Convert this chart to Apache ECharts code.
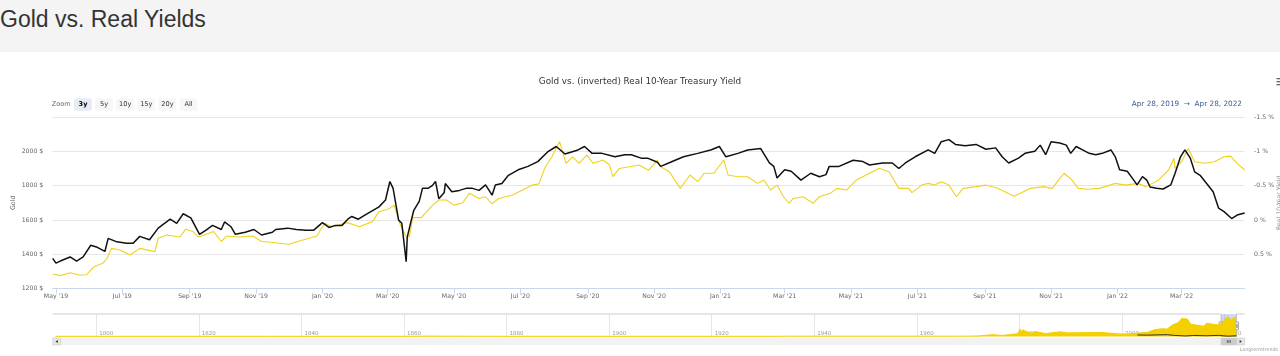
<!DOCTYPE html>
<html><head><meta charset="utf-8">
<script src="https://cdn.jsdelivr.net/npm/echarts@6/dist/echarts.min.js"></script>
<style>
html,body{margin:0;padding:0;background:#fff;width:1280px;height:356px;overflow:hidden;}
#hdr{position:absolute;left:0;top:0;width:1280px;height:52px;background:#f4f4f4;}
#hdr h1{position:absolute;left:0;top:7.5px;margin:0;font:normal 23px/23px "Liberation Sans",Arial,sans-serif;color:#333;white-space:nowrap;}
#chart{position:absolute;left:0;top:52px;width:1280px;height:304px;}
</style></head><body>
<div id="hdr"><h1>Gold vs. Real Yields</h1></div>
<div id="chart"></div>
<script>
// ---- Gold price (USD/oz), left axis ----
const goldDates = ['2019-04-28','2019-05-05','2019-05-14','2019-05-23','2019-05-29','2019-06-05','2019-06-13','2019-06-17','2019-06-21','2019-06-29','2019-07-08','2019-07-17','2019-07-31','2019-08-03','2019-08-11','2019-08-23','2019-08-28','2019-09-04','2019-09-09','2019-09-23','2019-09-30','2019-10-05','2019-10-17','2019-10-29','2019-11-06','2019-11-17','2019-12-01','2019-12-14','2019-12-27','2020-01-03','2020-01-10','2020-01-24','2020-02-04','2020-02-16','2020-02-22','2020-03-03','2020-03-07','2020-03-12','2020-03-18','2020-03-21','2020-03-24','2020-04-01','2020-04-10','2020-04-17','2020-04-24','2020-05-01','2020-05-09','2020-05-15','2020-05-24','2020-05-30','2020-06-05','2020-06-11','2020-06-24','2020-07-03','2020-07-12','2020-07-18','2020-07-24','2020-07-30','2020-08-06','2020-08-12','2020-08-18','2020-08-24','2020-08-31','2020-09-06','2020-09-15','2020-09-21','2020-09-24','2020-09-30','2020-10-09','2020-10-18','2020-10-27','2020-11-04','2020-11-07','2020-11-15','2020-11-25','2020-12-04','2020-12-11','2020-12-17','2020-12-26','2021-01-04','2021-01-08','2021-01-17','2021-01-26','2021-02-04','2021-02-10','2021-02-16','2021-02-22','2021-02-28','2021-03-05','2021-03-09','2021-03-18','2021-03-27','2021-04-02','2021-04-12','2021-04-18','2021-04-27','2021-05-06','2021-05-18','2021-05-27','2021-06-05','2021-06-14','2021-06-23','2021-06-26','2021-07-05','2021-07-11','2021-07-17','2021-07-23','2021-07-30','2021-08-06','2021-08-12','2021-08-24','2021-09-02','2021-09-13','2021-09-19','2021-09-28','2021-10-07','2021-10-13','2021-10-25','2021-11-02','2021-11-08','2021-11-13','2021-11-20','2021-11-26','2021-12-05','2021-12-15','2021-12-21','2021-12-30','2022-01-08','2022-01-20','2022-01-27','2022-02-02','2022-02-08','2022-02-17','2022-02-22','2022-02-23','2022-03-01','2022-03-07','2022-03-13','2022-03-22','2022-03-31','2022-04-09','2022-04-15','2022-04-21','2022-04-28'];
const goldValues = [1285,1275,1292,1277,1280,1327,1347,1376,1434,1424,1395,1434,1415,1493,1512,1500,1545,1532,1500,1532,1474,1506,1500,1506,1474,1468,1458,1483,1506,1580,1560,1584,1560,1590,1648,1667,1686,1580,1502,1502,1613,1613,1677,1716,1716,1686,1700,1755,1725,1735,1693,1725,1745,1774,1803,1810,1910,1968,2056,1930,1968,1930,1978,1930,1949,1920,1852,1900,1910,1920,1890,1949,1910,1881,1784,1862,1823,1872,1872,1949,1862,1852,1852,1813,1833,1774,1803,1735,1697,1725,1735,1697,1735,1755,1784,1774,1833,1872,1901,1881,1784,1784,1759,1803,1813,1803,1823,1803,1735,1784,1794,1803,1784,1765,1738,1765,1784,1794,1784,1833,1872,1833,1784,1779,1784,1794,1813,1803,1813,1794,1813,1833,1891,1959,1900,1940,2017,1939,1930,1939,1968,1972,1930,1891];

// ---- Real 10-year Treasury yield (%), right axis (inverted) ----
const yieldDates = ['2019-04-28','2019-05-01','2019-05-05','2019-05-14','2019-05-20','2019-05-26','2019-06-02','2019-06-08','2019-06-15','2019-06-18','2019-06-26','2019-07-05','2019-07-11','2019-07-17','2019-07-26','2019-08-03','2019-08-14','2019-08-20','2019-08-26','2019-09-02','2019-09-10','2019-09-16','2019-09-22','2019-09-30','2019-10-03','2019-10-09','2019-10-13','2019-10-22','2019-10-30','2019-11-06','2019-11-16','2019-11-19','2019-11-30','2019-12-08','2019-12-17','2019-12-24','2020-01-01','2020-01-07','2020-01-13','2020-01-19','2020-01-25','2020-01-28','2020-02-03','2020-02-09','2020-02-22','2020-02-28','2020-03-03','2020-03-06','2020-03-11','2020-03-14','2020-03-18','2020-03-19','2020-03-22','2020-03-25','2020-03-30','2020-04-02','2020-04-07','2020-04-11','2020-04-14','2020-04-17','2020-04-22','2020-04-23','2020-04-29','2020-05-06','2020-05-12','2020-05-18','2020-05-24','2020-05-30','2020-06-05','2020-06-08','2020-06-14','2020-06-20','2020-06-29','2020-07-08','2020-07-17','2020-07-26','2020-08-03','2020-08-11','2020-08-17','2020-08-23','2020-08-29','2020-09-05','2020-09-14','2020-09-26','2020-10-05','2020-10-11','2020-10-20','2020-10-26','2020-11-04','2020-11-07','2020-11-16','2020-11-28','2020-12-11','2020-12-23','2020-12-31','2021-01-06','2021-01-17','2021-01-26','2021-02-07','2021-02-15','2021-02-19','2021-02-22','2021-03-01','2021-03-07','2021-03-16','2021-03-25','2021-04-02','2021-04-08','2021-04-11','2021-04-20','2021-05-03','2021-05-12','2021-05-18','2021-05-30','2021-06-08','2021-06-14','2021-06-20','2021-06-29','2021-07-11','2021-07-17','2021-07-23','2021-07-30','2021-08-05','2021-08-14','2021-08-24','2021-09-02','2021-09-11','2021-09-17','2021-09-23','2021-10-02','2021-10-08','2021-10-17','2021-10-22','2021-10-27','2021-11-01','2021-11-09','2021-11-15','2021-11-19','2021-11-24','2021-11-30','2021-12-06','2021-12-12','2021-12-18','2021-12-26','2021-12-30','2022-01-03','2022-01-10','2022-01-16','2022-01-19','2022-01-24','2022-01-28','2022-01-31','2022-02-06','2022-02-12','2022-02-19','2022-02-23','2022-02-28','2022-03-04','2022-03-09','2022-03-13','2022-03-18','2022-03-24','2022-03-30','2022-04-04','2022-04-09','2022-04-16','2022-04-21','2022-04-28'];
const yieldValues = [0.56,0.63,0.60,0.54,0.60,0.54,0.37,0.40,0.46,0.27,0.32,0.34,0.34,0.24,0.29,0.12,-0.01,0.05,-0.09,-0.03,0.21,0.15,0.08,0.14,0.03,0.10,0.21,0.18,0.14,0.22,0.18,0.14,0.12,0.14,0.15,0.15,0.04,0.11,0.08,0.08,-0.02,-0.05,-0.01,-0.07,-0.19,-0.29,-0.56,-0.46,0.00,0.05,0.61,0.25,0.05,-0.14,-0.27,-0.46,-0.46,-0.50,-0.56,-0.31,-0.40,-0.53,-0.41,-0.43,-0.46,-0.46,-0.43,-0.51,-0.36,-0.51,-0.53,-0.65,-0.73,-0.78,-0.85,-0.99,-1.07,-0.96,-0.99,-1.02,-1.07,-0.97,-0.97,-0.92,-0.95,-0.95,-0.90,-0.90,-0.84,-0.78,-0.84,-0.92,-0.97,-1.02,-1.07,-0.92,-0.97,-1.02,-1.04,-0.83,-0.78,-0.61,-0.73,-0.71,-0.58,-0.68,-0.63,-0.66,-0.78,-0.78,-0.87,-0.85,-0.80,-0.83,-0.83,-0.75,-0.83,-0.92,-1.02,-0.97,-1.14,-1.17,-1.10,-1.08,-1.10,-1.03,-1.05,-0.92,-0.83,-0.90,-0.97,-1.00,-1.09,-0.95,-1.14,-1.12,-1.09,-0.97,-1.07,-1.02,-0.97,-0.95,-0.97,-1.02,-0.92,-0.73,-0.71,-0.58,-0.51,-0.63,-0.58,-0.48,-0.46,-0.45,-0.51,-0.68,-0.92,-1.02,-0.90,-0.70,-0.65,-0.53,-0.41,-0.17,-0.12,-0.02,-0.07,-0.10];

// ---- Axis ticks ----
const xTickDates = ['2019-05-01','2019-07-01','2019-09-01','2019-11-01','2020-01-01','2020-03-01','2020-05-01','2020-07-01','2020-09-01','2020-11-01','2021-01-01','2021-03-01','2021-05-01','2021-07-01','2021-09-01','2021-11-01','2022-01-01','2022-03-01'];
const xTickLabels = ["May '19","Jul '19","Sep '19","Nov '19","Jan '20","Mar '20","May '20","Jul '20","Sep '20","Nov '20","Jan '21","Mar '21","May '21","Jul '21","Sep '21","Nov '21","Jan '22","Mar '22"];

// ---- Navigator: long-term gold price history ----
const navDates = ['1792-01-01','1834-01-01','1862-01-01','1864-07-01','1870-01-01','1879-01-01','1933-01-01','1934-06-01','1967-01-01','1970-01-01','1972-01-01','1973-06-01','1974-12-01','1976-08-01','1978-01-01','1979-06-01','1979-12-01','1980-01-21','1980-04-01','1980-09-15','1981-06-01','1982-06-01','1983-02-01','1985-02-01','1987-12-01','1989-06-01','1993-08-01','1996-02-01','1999-08-01','2001-04-01','2003-01-01','2005-01-01','2006-05-01','2007-12-01','2008-03-01','2008-10-01','2009-12-01','2010-12-01','2011-09-01','2012-10-01','2013-06-01','2015-12-01','2016-07-01','2018-08-01','2019-04-28','2020-08-06','2021-03-05','2022-03-07','2022-04-28'];
const navGold = [19.4,20.7,20.7,40,30,20.7,20.7,35,35,36,58,120,183,110,173,280,460,780,500,690,460,320,500,300,480,370,400,410,255,260,350,425,700,800,970,750,1200,1400,1850,1780,1250,1060,1350,1180,1285,2056,1697,2017,1891];
const navYieldDates = ['2003-01-01','2005-01-01','2007-01-01','2008-11-01','2010-01-01','2012-06-01','2013-12-01','2016-07-01','2018-11-01','2020-08-01','2022-04-28'];
const navYieldValues = [2.2,1.8,2.5,3.0,1.2,-0.6,0.8,0.0,1.1,-1.0,0.0];
const navTickDates = ['1800-01-01','1820-01-01','1840-01-01','1860-01-01','1880-01-01','1900-01-01','1920-01-01','1940-01-01','1960-01-01','1980-01-01','2000-01-01','2020-01-01'];
const navTickLabels = ['1800','1820','1840','1860','1880','1900','1920','1940','1960','1980','2000','2020'];

const rangeButtons = ['3y','5y','10y','15y','20y','All'];
const rangeStart = '2019-04-28', rangeEnd = '2022-04-28', navStart = '1791-07-01';
const rangeText = 'Apr 28, 2019  \u2192  Apr 28, 2022';

const FONT = 'DejaVu Sans';
const chart = echarts.init(document.getElementById('chart'), null, {renderer: 'canvas'});
const T = d => Date.UTC(+d.slice(0, 4), +d.slice(5, 7) - 1, +d.slice(8, 10));
const xTickTs = xTickDates.map(T);
const navTickTs = navTickDates.map(T);
const zip = (a, b) => a.map((d, i) => [T(d), b[i]]);

chart.setOption({
  animation: false,
  backgroundColor: '#fff',
  textStyle: {fontFamily: FONT},
  title: {text: 'Gold vs. (inverted) Real 10-Year Treasury Yield', left: 'center', top: 20.5,
    textStyle: {fontSize: 8.8, fontWeight: 'normal', color: '#333', fontFamily: FONT}},
  grid: [
    {left: 52.7, right: 35.3, top: 65, height: 171.5, outerBoundsMode: 'none', containLabel: false},
    {left: 52.7, right: 43.5, top: 262, height: 22.5, outerBoundsMode: 'none', containLabel: false}
  ],
  xAxis: [
    {type: 'value', gridIndex: 0, min: T(rangeStart), max: T(rangeEnd), scale: true,
      axisLine: {onZero: false, lineStyle: {color: '#ccd6eb', width: 1}},
      axisTick: {customValues: xTickTs, length: 5, lineStyle: {color: '#ccd6eb'}},
      axisLabel: {customValues: xTickTs, fontSize: 6.2, color: '#666', margin: 4.5, fontFamily: FONT,
        formatter: v => { const i = xTickTs.indexOf(+v); return i >= 0 ? xTickLabels[i] : ''; }},
      splitLine: {show: false}},
    {type: 'value', gridIndex: 1, min: T(navStart), max: T(rangeEnd), scale: true,
      axisLine: {show: false, onZero: false},
      axisTick: {show: false, customValues: navTickTs},
      axisLabel: {customValues: navTickTs, fontSize: 5.5, color: '#999', margin: -6.3, align: 'left',
        padding: [0, 0, 0, 3], fontFamily: FONT,
        formatter: v => { const i = navTickTs.indexOf(+v); return i >= 0 ? navTickLabels[i] : ''; }},
      splitLine: {show: true, lineStyle: {color: '#e6e6e6', width: 1}}}
  ],
  yAxis: [
    {type: 'value', gridIndex: 0, position: 'left', min: 1200, max: 2200, interval: 200,
      name: 'Gold', nameLocation: 'middle', nameGap: 36, nameRotate: 90, nameMoveOverlap: false,
      nameTextStyle: {fontSize: 6.4, color: '#666', fontFamily: FONT},
      axisLine: {show: false}, axisTick: {show: false},
      axisLabel: {formatter: v => v + ' $', fontSize: 6.2, color: '#666', margin: 9.4, showMaxLabel: false,
        padding: [0, 0, 8, 0], fontFamily: FONT},
      splitLine: {lineStyle: {color: '#e6e6e6', width: 1}}},
    {type: 'value', gridIndex: 0, position: 'right', inverse: true, min: -1.5, max: 1, interval: 0.5,
      name: 'Real 10-Year Yield', nameLocation: 'middle', nameGap: 31.5, nameRotate: 90, nameMoveOverlap: false,
      nameTextStyle: {fontSize: 6.2, color: '#888', fontFamily: FONT},
      axisLine: {show: false}, axisTick: {show: false},
      axisLabel: {formatter: v => v + ' %', fontSize: 6.2, color: '#666', margin: 9.4, showMaxLabel: false,
        padding: [0, 0, 7, 0], fontFamily: FONT},
      splitLine: {show: false}},
    {type: 'value', gridIndex: 1, min: 0, max: 2300, show: false},
    {type: 'value', gridIndex: 1, min: -2, max: 60, show: false}
  ],
  series: [
    {type: 'line', name: 'Gold', xAxisIndex: 0, yAxisIndex: 0, data: zip(goldDates, goldValues),
      showSymbol: false, symbol: 'none', lineStyle: {color: '#f0d21e', width: 1.1}, itemStyle: {color: '#f0d21e'}},
    {type: 'line', name: 'Real Yield', xAxisIndex: 0, yAxisIndex: 1, data: zip(yieldDates, yieldValues),
      showSymbol: false, symbol: 'none', lineStyle: {color: '#111', width: 1.5}, itemStyle: {color: '#111'}},
    {type: 'line', name: 'navGold', xAxisIndex: 1, yAxisIndex: 2, data: zip(navDates, navGold),
      showSymbol: false, symbol: 'none', lineStyle: {color: '#f2cf00', width: 1}, itemStyle: {color: '#f2cf00'},
      areaStyle: {color: '#f5d000', opacity: 1},
      markArea: {silent: true, itemStyle: {color: 'rgba(102,133,194,0.3)'},
        data: [[{xAxis: T(rangeStart)}, {xAxis: T(rangeEnd)}]]}},
    {type: 'line', name: 'navYield', xAxisIndex: 1, yAxisIndex: 3, data: zip(navYieldDates, navYieldValues),
      showSymbol: false, symbol: 'none', lineStyle: {color: '#333', width: 1}, itemStyle: {color: '#333'}}
  ]
});

// ---- decorations: range selector, navigator handles, scrollbar ----
const g = [];
g.push({type: 'text', x: 51.7, y: 52.5, style: {text: 'Zoom', fontSize: 6.6, fill: '#666', verticalAlign: 'middle', fontFamily: FONT}});
rangeButtons.forEach((t, i) => {
  const x = 74 + i * 21.1, sel = i === 0;
  g.push({type: 'rect', shape: {x: x, y: 46.3, width: 18, height: 12.4, r: 2},
    style: {fill: sel ? '#e6ebf5' : '#f7f7f7'}});
  g.push({type: 'text', x: x + 9, y: 52.5, style: {text: t, fontSize: 6.6, fill: sel ? '#000' : '#333',
    fontWeight: sel ? 'bold' : 'normal', align: 'center', verticalAlign: 'middle', fontFamily: FONT}});
});
g.push({type: 'text', x: 1242, y: 52, style: {text: rangeText, fontSize: 7.3, fill: '#3d5c99',
  align: 'right', verticalAlign: 'middle', fontFamily: FONT}});
[26, 29, 32].forEach(y => g.push({type: 'rect', shape: {x: 1276.5, y: y, width: 5, height: 1.3}, style: {fill: '#666'}}));

const x0 = chart.convertToPixel({xAxisIndex: 1}, T(rangeStart));
const x1 = chart.convertToPixel({xAxisIndex: 1}, T(rangeEnd));
g.push({type: 'polyline', shape: {points: [[52.7, 262], [x0, 262], [x0, 284.5], [x1, 284.5], [x1, 262], [1244.7, 262]]},
  style: {stroke: '#cccccc', lineWidth: 1, fill: null}});
[x0, x1].forEach(x => {
  g.push({type: 'rect', shape: {x: x - 2, y: 270, width: 4, height: 8}, style: {fill: '#f2f2f2', stroke: '#999', lineWidth: 0.8}});
  g.push({type: 'line', shape: {x1: x - 0.6, y1: 272, x2: x - 0.6, y2: 276}, style: {stroke: '#333', lineWidth: 0.5}});
  g.push({type: 'line', shape: {x1: x + 0.6, y1: 272, x2: x + 0.6, y2: 276}, style: {stroke: '#333', lineWidth: 0.5}});
});
g.push({type: 'rect', shape: {x: 52.7, y: 286, width: 1192, height: 7}, style: {fill: '#f2f2f2'}});
g.push({type: 'rect', shape: {x: 52.7, y: 286, width: 8, height: 7}, style: {fill: '#e6e6e6', stroke: '#cccccc', lineWidth: 0.6}});
g.push({type: 'polygon', shape: {points: [[55.5, 289.5], [57.8, 288], [57.8, 291]]}, style: {fill: '#333'}});
g.push({type: 'rect', shape: {x: 1236.7, y: 286, width: 8, height: 7}, style: {fill: '#e6e6e6', stroke: '#cccccc', lineWidth: 0.6}});
g.push({type: 'polygon', shape: {points: [[1241.9, 289.5], [1239.6, 288], [1239.6, 291]]}, style: {fill: '#333'}});
g.push({type: 'rect', shape: {x: x0, y: 286, width: x1 - x0, height: 7}, style: {fill: '#cccccc', stroke: '#cccccc', lineWidth: 0.6}});
const xm = (x0 + x1) / 2;
[-1.5, 0, 1.5].forEach(d => g.push({type: 'line', shape: {x1: xm + d, y1: 288, x2: xm + d, y2: 291}, style: {stroke: '#333', lineWidth: 0.6}}));
g.push({type: 'text', x: 1278, y: 298, style: {text: 'Longtermtrends', fontSize: 4.8, fill: '#999', align: 'right', verticalAlign: 'middle', fontFamily: FONT}});

chart.setOption({graphic: g});
</script>
</body></html>
